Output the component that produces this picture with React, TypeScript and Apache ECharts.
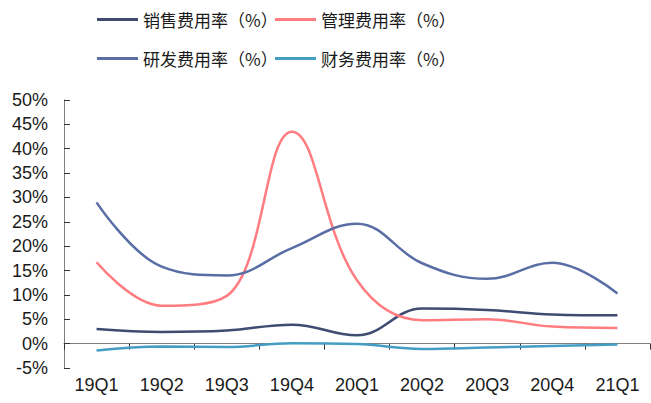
import React, { useEffect, useRef } from "react";
import * as echarts from "echarts";

const categories = ["19Q1", "19Q2", "19Q3", "19Q4", "20Q1", "20Q2", "20Q3", "20Q4", "21Q1"];
const salesRate = [3.0, 2.4, 2.7, 3.9, 1.7, 7.2, 6.9, 6.0, 5.8];
const mgmtRate = [16.7, 7.8, 9.8, 43.5, 13.0, 4.8, 5.0, 3.5, 3.2];
const rdRate = [29.0, 15.8, 14.0, 19.6, 24.6, 16.5, 13.3, 16.6, 10.3];
const finRate = [-1.4, -0.6, -0.7, 0.1, -0.1, -1.1, -0.8, -0.5, -0.2];
const seriesNames = ["销售费用率（%）", "管理费用率（%）", "研发费用率（%）", "财务费用率（%）"];
const colors = ["#3F4B70", "#FF7C80", "#5A6EA6", "#449EC4"];

export default function App() {
  const ref = useRef<HTMLDivElement>(null);
  useEffect(() => {
    if (!ref.current) return;
    const chart = echarts.init(ref.current, undefined, { renderer: "svg" });
    const legendBase = {
      icon: "rect",
      itemWidth: 41,
      itemHeight: 3,
      itemGap: 0,
      textStyle: { fontSize: 17, color: "#1a1a1a", fontFamily: "Noto Sans CJK SC" },
    };
    const pos = [
      { left: 92, top: 6 },
      { left: 270, top: 6 },
      { left: 92, top: 45 },
      { left: 270, top: 45 },
    ];
    const data = [salesRate, mgmtRate, rdRate, finRate];
    chart.setOption({
      animation: false,
      color: colors,
      legend: seriesNames.map((n, i) => ({ ...legendBase, data: [n], ...pos[i] })),
      grid: { left: 64, right: 1, top: 100, bottom: 35, containLabel: false, outerBoundsMode: "none" },
      xAxis: {
        type: "category",
        data: categories,
        boundaryGap: true,
        axisLine: { onZero: true, lineStyle: { color: "#808080", width: 1 } },
        axisTick: { show: true, length: 6, lineStyle: { color: "#333333" } },
        axisLabel: { margin: 8, fontSize: 18, color: "#1a1a1a", fontFamily: "Liberation Sans" },
      },
      yAxis: {
        type: "value",
        min: -5,
        max: 50,
        interval: 5,
        splitLine: { show: false },
        axisLine: { show: true, lineStyle: { color: "#808080", width: 1 } },
        axisTick: { show: true, inside: true, length: 6, lineStyle: { color: "#333333" } },
        axisLabel: { formatter: "{value}%", fontSize: 18, color: "#1a1a1a", margin: 16, fontFamily: "Liberation Sans" },
      },
      series: seriesNames.map((name, i) => ({
        name,
        type: "line",
        data: data[i],
        smooth: 0.4,
        symbol: "none",
        lineStyle: { width: 2.5, color: colors[i] },
        z: i === 3 ? 5 : 3,
      })),
    });
    return () => chart.dispose();
  }, []);
  return <div ref={ref} style={{ width: 651, height: 403, position: "absolute", left: 0, top: 0 }} />;
}
